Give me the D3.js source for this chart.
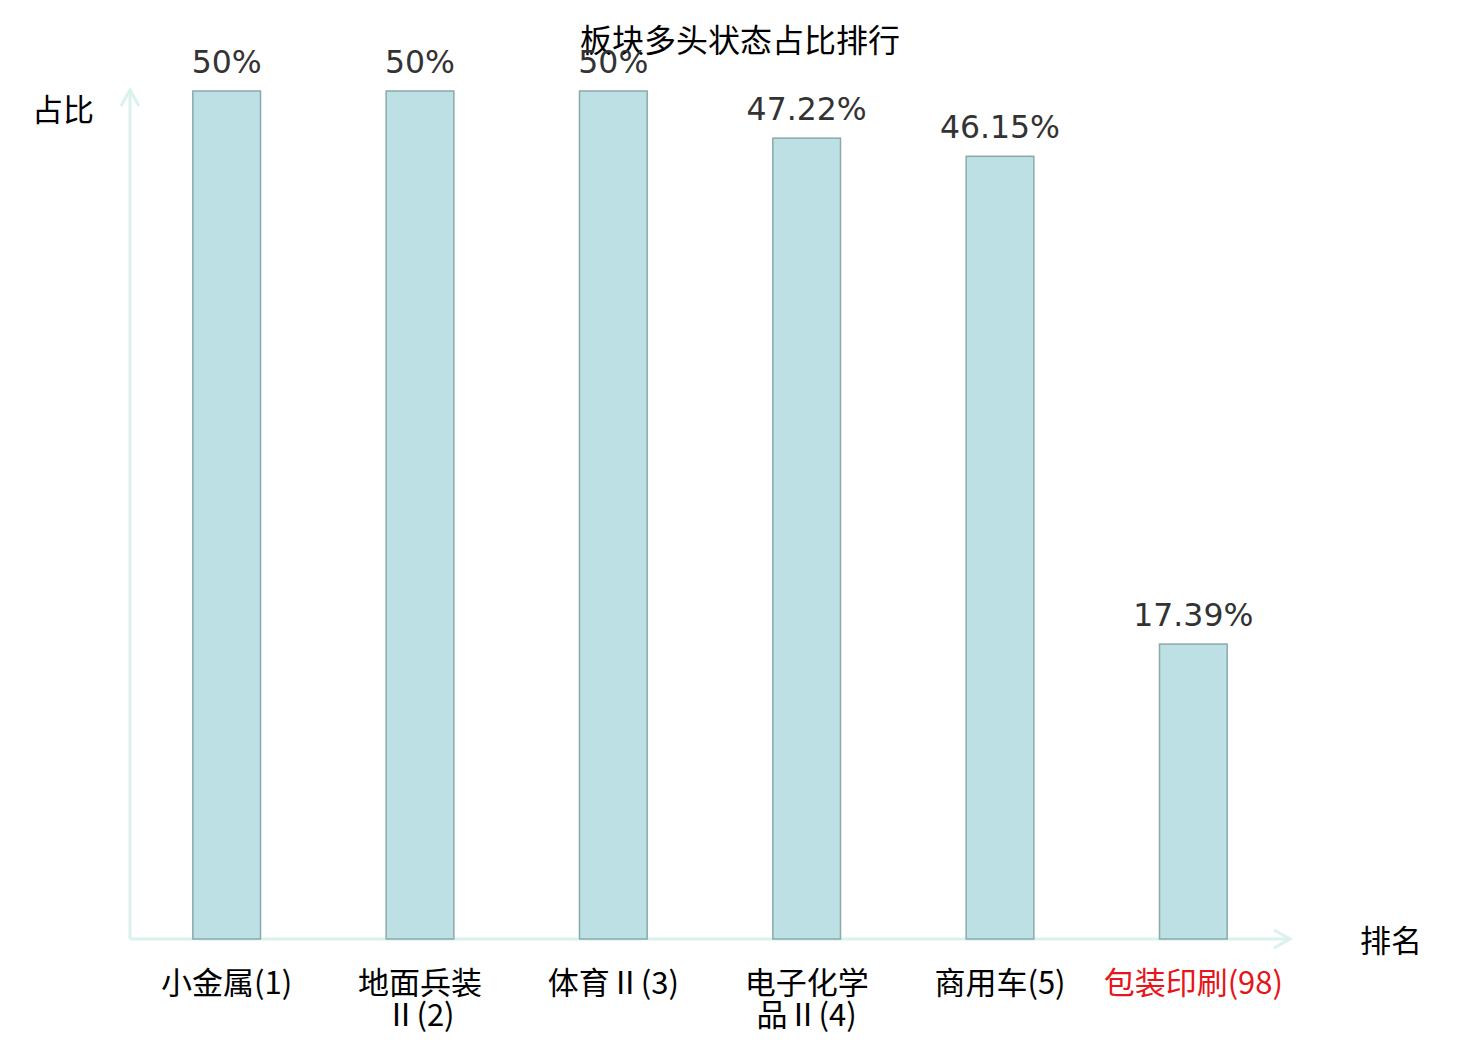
<!DOCTYPE html>
<meta charset="utf-8">
<style>
body { margin: 0; background: #fff; }
.vlabel { fill: #333; font-family: "DejaVu Sans", sans-serif; font-size: 31.5px; text-anchor: middle; }
.tick-label { font-family: "Noto Sans CJK SC", sans-serif; font-size: 31px; text-anchor: middle; }
.cjk { font-family: "Noto Sans CJK SC", sans-serif; fill: #000; }
</style>
<svg width="1480" height="1040"></svg>
<script src="https://d3js.org/d3.v7.min.js"></script>
<script>
var categories = ["小金属(1)", "地面兵装Ⅱ(2)", "体育Ⅱ(3)", "电子化学品Ⅱ(4)", "商用车(5)", "包装印刷(98)"];
var tickLines = [["小金属(1)"], ["地面兵装", "Ⅱ(2)"], ["体育Ⅱ(3)"], ["电子化学", "品Ⅱ(4)"], ["商用车(5)"], ["包装印刷(98)"]];
var values = [50, 50, 50, 47.22, 46.15, 17.39];
var highlighted = [false, false, false, false, false, true];

var svg = d3.select("svg"),
    width = +svg.attr("width"),
    height = +svg.attr("height");

var x0 = 130, x1 = 1290, yBase = 939, yTop = 91;

var x = d3.scaleBand()
          .domain(categories)
          .range([x0, x1]);
var y = d3.scaleLinear()
          .domain([0, 50])
          .range([yBase, yTop]);

var barW = x.bandwidth() * 0.35;
var axisColor = "#daf1ee";

// title
svg.append("text")
   .attr("class", "cjk")
   .attr("x", 740)
   .attr("y", 52)
   .attr("text-anchor", "middle")
   .attr("font-size", 32)
   .text("板块多头状态占比排行");

// axes with arrows
svg.append("line")
   .attr("x1", x0).attr("x2", x0)
   .attr("y1", yBase).attr("y2", 90)
   .attr("stroke", axisColor).attr("stroke-width", 3);
svg.append("path")
   .attr("d", "M" + (x0 - 9) + "," + 106 + "L" + x0 + "," + 90 + "L" + (x0 + 9) + "," + 106)
   .attr("fill", "none").attr("stroke", axisColor).attr("stroke-width", 3);
svg.append("line")
   .attr("x1", x0).attr("x2", x1)
   .attr("y1", yBase).attr("y2", yBase)
   .attr("stroke", axisColor).attr("stroke-width", 3);
svg.append("path")
   .attr("d", "M" + (x1 - 16) + "," + (yBase - 9) + "L" + x1 + "," + yBase + "L" + (x1 - 16) + "," + (yBase + 9))
   .attr("fill", "none").attr("stroke", axisColor).attr("stroke-width", 3);

svg.append("text")
   .attr("class", "cjk")
   .attr("x", 63).attr("y", 121)
   .attr("text-anchor", "middle")
   .attr("font-size", 31)
   .text("占比");
svg.append("text")
   .attr("class", "cjk")
   .attr("x", 1391).attr("y", 952)
   .attr("text-anchor", "middle")
   .attr("font-size", 31)
   .text("排名");

// bars
var bars = svg.append("g")
              .selectAll("g")
              .data(categories)
              .enter().append("g");
bars.append("rect")
    .attr("x", (c) => x(c) + x.bandwidth() / 2 - barW / 2)
    .attr("y", (c, i) => y(values[i]))
    .attr("width", barW)
    .attr("height", (c, i) => yBase - y(values[i]))
    .attr("fill", "#bce0e3")
    .attr("stroke", "#8aa9ab")
    .attr("stroke-width", 1.5);
bars.append("text")
    .attr("class", "vlabel")
    .attr("x", (c) => x(c) + x.bandwidth() / 2)
    .attr("y", (c, i) => y(values[i]) - 18)
    .text((c, i) => values[i] + "%");

// tick labels
var ticks = svg.append("g")
               .selectAll("text")
               .data(categories)
               .enter().append("text")
               .attr("class", "tick-label")
               .attr("fill", (c, i) => highlighted[i] ? "#e8141a" : "#000")
               .attr("transform", (c) => "translate(" + (x(c) + x.bandwidth() / 2) + ",994)");
ticks.selectAll("tspan")
     .data((c, i) => tickLines[i])
     .enter().append("tspan")
     .attr("x", 0)
     .attr("y", (d, j) => j * 32)
     .text((d) => d);
</script>
